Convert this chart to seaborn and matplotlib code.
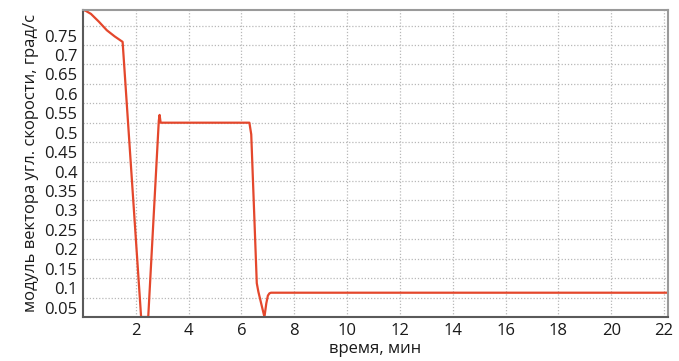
import matplotlib
matplotlib.use("Agg")
import matplotlib.pyplot as plt
from matplotlib.transforms import ScaledTranslation
import seaborn as sns
import pandas as pd

# Angular velocity magnitude over time
time_min = [0.0, 0.1, 0.3, 0.6, 0.9, 1.2, 1.5, 2.2, 2.47, 2.87, 2.9,
            2.94, 4.0, 5.0, 6.3, 6.37, 6.58, 6.64, 6.87, 6.94, 7.0, 7.06,
            7.12, 10.0, 15.0, 20.0, 22.2]
omega = [0.79, 0.788, 0.78, 0.76, 0.738, 0.722, 0.708, 0.0, 0.0, 0.505,
         0.52, 0.5, 0.5, 0.5, 0.5, 0.47, 0.087, 0.065, 0.0, 0.035, 0.055,
         0.061, 0.0625, 0.0625, 0.0625, 0.0625, 0.0625]

x_ticks = [2, 4, 6, 8, 10, 12, 14, 16, 18, 20, 22]
y_ticks = [0.05, 0.1, 0.15, 0.2, 0.25, 0.3, 0.35, 0.4, 0.45, 0.5, 0.55,
           0.6, 0.65, 0.7, 0.75]
y_tick_labels = ["0.05", "0.1", "0.15", "0.2", "0.25", "0.3", "0.35", "0.4",
                 "0.45", "0.5", "0.55", "0.6", "0.65", "0.7", "0.75"]

sns.set_style("white")
plt.rcParams["font.family"] = ["Open Sans", "DejaVu Sans"]

df = pd.DataFrame({"t": time_min, "w": omega})

fig = plt.figure(figsize=(6.79, 3.61), dpi=100)
ax = fig.add_axes([83 / 679, 1 - 317 / 361, (668 - 83) / 679, (317 - 10) / 361])

sns.lineplot(data=df, x="t", y="w", ax=ax, color="#e4472c", linewidth=1.6,
             sort=False)

ax.set_xlim(0, 22.15)
ax.set_ylim(0, 0.79)
ax.set_xticks(x_ticks)
ax.set_xticklabels([str(v) for v in x_ticks])
ax.set_yticks(y_ticks)
ax.set_yticklabels(y_tick_labels)

ax.grid(True, color="#b8b8b8", linestyle=(0, (1, 1.5)), linewidth=0.9)
ax.set_axisbelow(True)

ax.tick_params(axis="both", length=0, labelsize=12, colors="#1a1a1a", pad=4)
# y labels sit half a step below their grid lines
shift = ScaledTranslation(0, -0.10, fig.dpi_scale_trans)
for lab in ax.get_yticklabels():
    lab.set_transform(lab.get_transform() + shift)

for side in ("left", "bottom"):
    ax.spines[side].set_color("#5a5a5a")
    ax.spines[side].set_linewidth(1.5)
for side in ("top", "right"):
    ax.spines[side].set_color("#9a9a9a")
    ax.spines[side].set_linewidth(1.5)

ax.set_xlabel("время, мин", fontsize=12, color="#1a1a1a", labelpad=2)
ax.set_ylabel("модуль вектора угл. скорости, град/с", fontsize=12,
              color="#1a1a1a", labelpad=4)

fig.savefig("out.png", dpi=100)
